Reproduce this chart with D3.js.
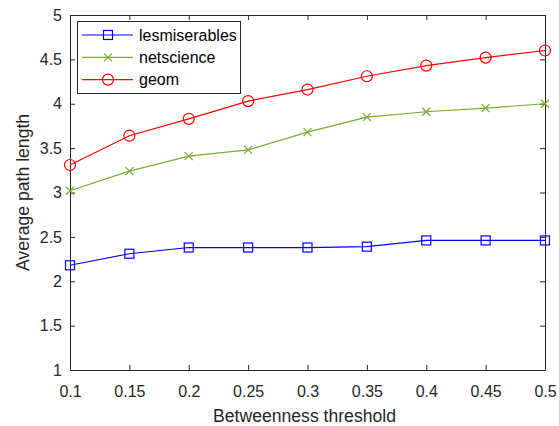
<!DOCTYPE html>
<html><head><meta charset="utf-8">
<script src="https://cdn.jsdelivr.net/npm/d3@7"></script>
<style>body{margin:0;background:#fff}svg{display:block}</style>
</head><body>
<svg id="c" width="559" height="426"></svg>
<script>
const thresholds = [0.1,0.15,0.2,0.25,0.3,0.35,0.4,0.45,0.5];
const lesmiserables = [2.18,2.31,2.38,2.38,2.38,2.39,2.46,2.46,2.46];
const netscience = [3.02,3.24,3.41,3.48,3.68,3.85,3.91,3.95,4.0];
const geom = [3.31,3.64,3.83,4.03,4.16,4.31,4.43,4.52,4.60];
const xTicks = [0.1,0.15,0.2,0.25,0.3,0.35,0.4,0.45,0.5];
const yTicks = [1,1.5,2,2.5,3,3.5,4,4.5,5];
const seriesNames = ["lesmiserables","netscience","geom"];

const svg = d3.select("#c");
const L=70,R=545,T=15,B=370;
const x = d3.scaleLinear().domain([0.1,0.5]).range([L,R]);
const y = d3.scaleLinear().domain([1,5]).range([B,T]);
const axisCol="#262626";
const font="'Liberation Sans', Arial, sans-serif";

svg.append("rect").attr("x",L).attr("y",T).attr("width",R-L).attr("height",B-T).attr("fill","#fff");

function styleAxis(g){
  g.selectAll("path").attr("stroke",axisCol).attr("stroke-width",1);
  g.selectAll("line").attr("stroke",axisCol);
  g.selectAll("text").attr("fill",axisCol).style("font-family",font).style("font-size","16px");
}
const fmt = d=>String(d);
svg.append("g").attr("transform",`translate(0,${B})`)
  .call(d3.axisBottom(x).tickValues(xTicks).tickFormat(fmt).tickSizeInner(-5).tickSizeOuter(0).tickPadding(16))
  .call(styleAxis);
svg.append("g").attr("transform",`translate(0,${T})`)
  .call(d3.axisTop(x).tickValues(xTicks).tickFormat("").tickSizeInner(-5).tickSizeOuter(0))
  .call(styleAxis);
svg.append("g").attr("transform",`translate(${L},0)`)
  .call(d3.axisLeft(y).tickValues(yTicks).tickFormat(fmt).tickSizeInner(-5).tickSizeOuter(0).tickPadding(8))
  .call(styleAxis);
svg.append("g").attr("transform",`translate(${R},0)`)
  .call(d3.axisRight(y).tickValues(yTicks).tickFormat("").tickSizeInner(-5).tickSizeOuter(0))
  .call(styleAxis);

svg.append("text").attr("x",(L+R)/2 - 3).attr("y",422).attr("text-anchor","middle")
  .attr("fill",axisCol).style("font-family",font).style("font-size","17.6px").text("Betweenness threshold");
svg.append("text").attr("transform",`translate(29,${(T+B)/2}) rotate(-90)`).attr("text-anchor","middle")
  .attr("fill",axisCol).style("font-family",font).style("font-size","17.6px").text("Average path length");

const series = [
  {name:seriesNames[0], vals:lesmiserables, color:"#0000ff", marker:"square"},
  {name:seriesNames[1], vals:netscience, color:"#77ac30", marker:"x"},
  {name:seriesNames[2], vals:geom, color:"#ff0000", marker:"circle"}
];
function drawMarker(g,type,cx,cy,color){
  if(type==="square") g.append("rect").attr("x",cx-4.5).attr("y",cy-4.5).attr("width",9).attr("height",9).attr("fill","none").attr("stroke",color).attr("stroke-width",1.2);
  else if(type==="circle") g.append("circle").attr("cx",cx).attr("cy",cy).attr("r",5.5).attr("fill","none").attr("stroke",color).attr("stroke-width",1.2);
  else { g.append("path").attr("d",`M${cx-4},${cy-4}L${cx+4},${cy+4}M${cx-4},${cy+4}L${cx+4},${cy-4}`).attr("stroke",color).attr("stroke-width",1.2); }
}
const line = d3.line().x((d,i)=>x(thresholds[i])).y(d=>y(d));
series.forEach(s=>{
  svg.append("path").datum(s.vals).attr("d",line).attr("fill","none").attr("stroke",s.color).attr("stroke-width",1.2);
  const g=svg.append("g");
  s.vals.forEach((v,i)=>drawMarker(g,s.marker,x(thresholds[i]),y(v),s.color));
});

// legend
const lg = svg.append("g");
lg.append("rect").attr("x",77.5).attr("y",21.5).attr("width",163).attr("height",72).attr("fill","#fff").attr("stroke",axisCol).attr("stroke-width",1);
series.forEach((s,i)=>{
  const cy = 35+i*22.3;
  lg.append("line").attr("x1",82).attr("x2",133).attr("y1",cy).attr("y2",cy).attr("stroke",s.color).attr("stroke-width",1.2);
  drawMarker(lg,s.marker,108,cy,s.color);
  lg.append("text").attr("x",139).attr("y",cy+5.5).attr("fill","#000").style("font-family",font).style("font-size","16px").text(s.name);
});
</script>
</body></html>
